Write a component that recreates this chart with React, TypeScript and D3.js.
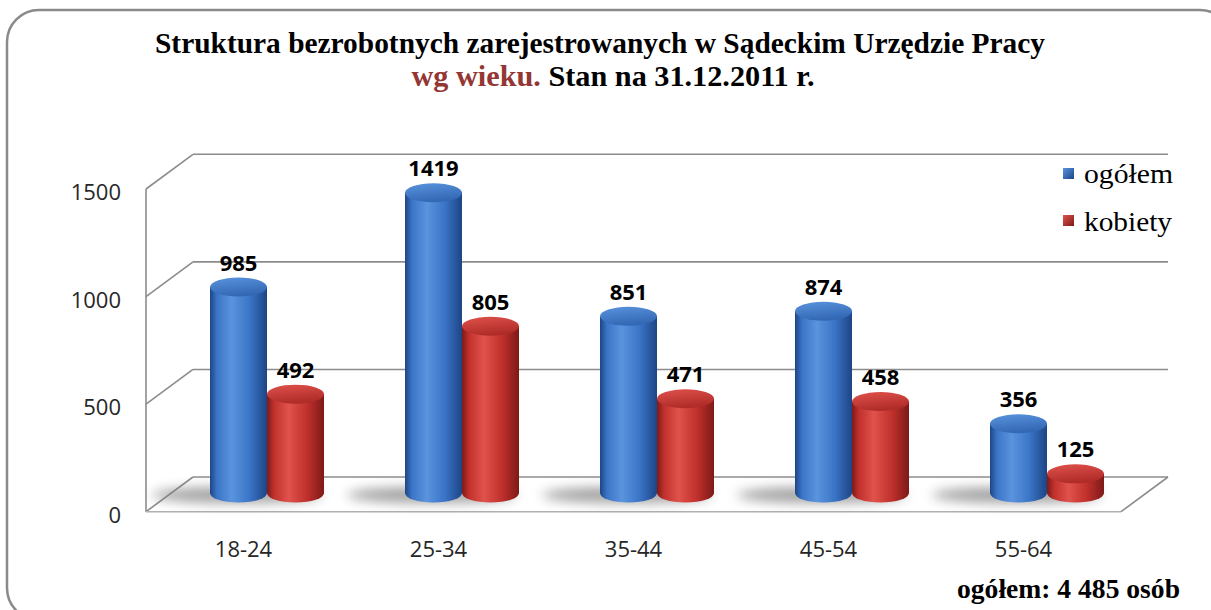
import React from "react";
import * as d3 from "d3";

const categories = ["18-24", "25-34", "35-44", "45-54", "55-64"];
const seriesNames = ["ogółem", "kobiety"];
const ogolem = [985, 1419, 851, 874, 356];
const kobiety = [492, 805, 471, 458, 125];
const yTicks = [0, 500, 1000, 1500];
const titleLine1 = "Struktura bezrobotnych zarejestrowanych w Sądeckim Urzędzie Pracy";
const titleLine2a = "wg wieku.";
const titleLine2b = " Stan na 31.12.2011 r.";
const footer = "ogółem: 4 485 osób";

const W = 1211;
const H = 610;
const DX = 47;
const DY = -34.7;

const palette = {
  ogółem: { dark: "#1d4585", mid: "#3a74c6", light: "#5a94de", top: "#4a86d4", topDark: "#3368b4" },
  kobiety: { dark: "#7d1a18", mid: "#c0302c", light: "#e0524c", top: "#d4443e", topDark: "#b02c28" },
};

export default function App() {
  const x = d3.scaleBand<string>().domain(categories).range([146, 1121]).paddingInner(0).paddingOuter(0);
  const sub = d3.scaleBand<string>().domain(seriesNames).range([-57, 57]);
  const yFront = d3.scaleLinear().domain([0, 1500]).range([511.7, 189]);
  const yBar = d3.scaleLinear().domain([0, 1500]).range([501, 175.2]);
  const baseY = 493;
  const ry = 9.5;

  const values: Record<string, number[]> = { ogółem: ogolem, kobiety: kobiety };
  const x0 = 146, x1 = 1121;

  const gridColor = "#8c8c8c";

  const bars: JSX.Element[] = [];
  const labels: JSX.Element[] = [];
  const shadows: JSX.Element[] = [];

  categories.forEach((c, i) => {
    const pc = (x(c) as number) + x.bandwidth() / 2 + DX / 2;
    shadows.push(
      <ellipse key={"sh" + c} cx={pc - 30} cy={baseY + 2} rx={85} ry={8} fill="#7a7a7a" opacity={0.7} filter="url(#blur)" />
    );
    seriesNames.forEach((s) => {
      const v = values[s][i];
      const bx = pc + (sub(s) as number);
      const bw = sub.bandwidth();
      const rx = bw / 2;
      const cx = bx + rx;
      const ty = yBar(v);
      const body = `M${bx},${ty} L${bx},${baseY} A${rx},${ry} 0 0 0 ${bx + bw},${baseY} L${bx + bw},${ty} Z`;
      bars.push(
        <g key={s + c}>
          <path d={body} fill={`url(#body-${s === "ogółem" ? "b" : "r"})`} />
          <ellipse cx={cx} cy={ty} rx={rx} ry={ry} fill={`url(#top-${s === "ogółem" ? "b" : "r"})`} />
        </g>
      );
      labels.push(
        <text key={"l" + s + c} x={cx} y={ty - ry - 7} textAnchor="middle" fontFamily="'Open Sans', sans-serif" fontWeight={700} fontSize={22} fill="#000">
          {v}
        </text>
      );
    });
  });

  const grad = (id: string, p: any) => (
    <linearGradient id={id} x1="0" x2="1" y1="0" y2="0">
      <stop offset="0" stopColor={p.dark} />
      <stop offset="0.12" stopColor={p.mid} />
      <stop offset="0.38" stopColor={p.light} />
      <stop offset="0.7" stopColor={p.mid} />
      <stop offset="1" stopColor={p.dark} />
    </linearGradient>
  );
  const topGrad = (id: string, p: any) => (
    <linearGradient id={id} x1="0" x2="0.3" y1="0" y2="1">
      <stop offset="0" stopColor={p.light} />
      <stop offset="1" stopColor={p.topDark} />
    </linearGradient>
  );

  return (
    <svg width={W} height={H} style={{ position: "absolute", left: 0, top: 0, display: "block" }} xmlns="http://www.w3.org/2000/svg">
      <defs>
        {grad("body-b", palette["ogółem"])}
        {grad("body-r", palette["kobiety"])}
        {topGrad("top-b", palette["ogółem"])}
        {topGrad("top-r", palette["kobiety"])}
        <filter id="blur" x="-50%" y="-200%" width="200%" height="500%">
          <feGaussianBlur stdDeviation="6" />
        </filter>
        <linearGradient id="leg-b" x1="0" x2="1" y1="0" y2="1">
          <stop offset="0" stopColor="#5a94de" />
          <stop offset="1" stopColor="#1d4585" />
        </linearGradient>
        <linearGradient id="leg-r" x1="0" x2="1" y1="0" y2="1">
          <stop offset="0" stopColor="#e0524c" />
          <stop offset="1" stopColor="#7d1a18" />
        </linearGradient>
      </defs>
      <rect x={0} y={0} width={W} height={H} fill="#fff" />
      <rect x={7} y={10} width={1225} height={610} rx={32} ry={32} fill="#fff" stroke="#8a8a8a" strokeWidth={2.5} />

      <g stroke={gridColor} strokeWidth={1.6} fill="none">
        {yTicks.map((t) => (
          <g key={"g" + t}>
            <line x1={x0} y1={yFront(t)} x2={x0 + DX} y2={yFront(t) + DY} />
            <line x1={x0 + DX} y1={yFront(t) + DY} x2={x1 + DX} y2={yFront(t) + DY} />
          </g>
        ))}
        <line x1={x0} y1={yFront(0)} x2={x0} y2={yFront(1500)} />
        <line x1={x0} y1={yFront(0)} x2={x1} y2={yFront(0)} stroke="#b0b0b0" />
        <line x1={x1} y1={yFront(0)} x2={x1 + DX} y2={yFront(0) + DY} />
      </g>

      {shadows}
      {bars}
      {labels}

      {yTicks.map((t) => (
        <text key={"t" + t} x={121} y={yFront(t) + 11} textAnchor="end" fontFamily="'Open Sans', sans-serif" fontSize={22} fill="#262626">
          {t}
        </text>
      ))}
      {categories.map((c) => (
        <text key={"c" + c} x={(x(c) as number) + x.bandwidth() / 2} y={557} textAnchor="middle" fontFamily="'Open Sans', sans-serif" fontSize={22} fill="#262626">
          {c}
        </text>
      ))}

      <text x={600} y={53} textAnchor="middle" fontFamily="'Liberation Serif', serif" fontWeight={700} fontSize={29} fill="#000" textLength={890} lengthAdjust="spacingAndGlyphs">
        {titleLine1}
      </text>
      <text x={613} y={86} textAnchor="middle" fontFamily="'Liberation Serif', serif" fontWeight={700} fontSize={29} fill="#000" textLength={403} lengthAdjust="spacingAndGlyphs">
        <tspan fill="#943634">{titleLine2a}</tspan>
        <tspan>{titleLine2b}</tspan>
      </text>

      <rect x={1063} y={168} width={11} height={11} fill="url(#leg-b)" />
      <text x={1084} y={183} fontFamily="'Liberation Serif', serif" fontSize={28} fill="#000" textLength={89} lengthAdjust="spacingAndGlyphs">ogółem</text>
      <rect x={1063} y={215} width={11} height={11} fill="url(#leg-r)" />
      <text x={1084} y={231} fontFamily="'Liberation Serif', serif" fontSize={28} fill="#000" textLength={88} lengthAdjust="spacingAndGlyphs">kobiety</text>

      <text x={957} y={598} fontFamily="'Liberation Serif', serif" fontWeight={700} fontSize={27} fill="#000" textLength={223} lengthAdjust="spacingAndGlyphs">
        {footer}
      </text>
    </svg>
  );
}
